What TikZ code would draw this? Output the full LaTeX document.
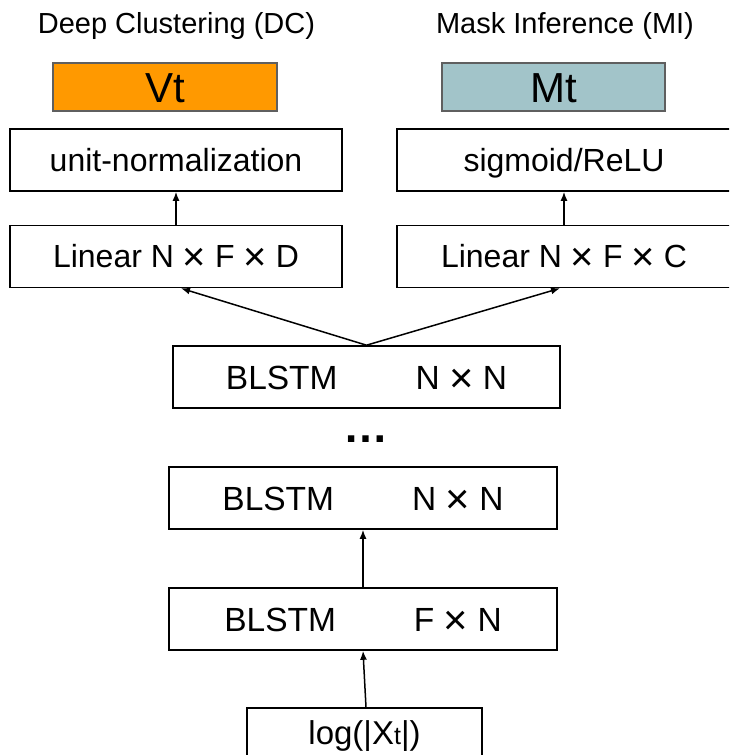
\documentclass[tikz,border=0pt]{standalone}
\usepackage{fontspec}
\setmainfont{Liberation Sans}
\usetikzlibrary{arrows.meta}
\definecolor{dcorange}{HTML}{FF9900}
\definecolor{miteal}{HTML}{A2C4C9}
\definecolor{outgray}{HTML}{5F5F5F}
% enlarged multiplication sign, centred on the capitals
\newcommand{\tms}{\raisebox{-0.09em}{\scalebox{1.25}{×}}}
\begin{document}
\begin{tikzpicture}[x=1pt,y=-1pt,
  title/.style={anchor=base,inner sep=0pt,font=\fontsize{29}{33}\selectfont},
  outbox/.style={draw=outgray,line width=1.5pt,minimum width=224pt,minimum height=48pt,
    inner sep=0pt,text height=30pt,text depth=0pt,font=\fontsize{42}{46}\selectfont},
  headbox/.style={draw=black,line width=1.6pt,minimum height=62pt,inner sep=0pt,
    text height=22.5pt,text depth=0pt,font=\fontsize{32}{36}\selectfont},
  lstmbox/.style={draw=black,line width=1.6pt,minimum width=388pt,minimum height=62pt,
    inner sep=0pt,text height=24pt,text depth=0pt,font=\fontsize{33.5}{38}\selectfont},
  arr/.style={line width=1.5pt,-{Latex[length=9pt,width=7pt]}}]
\useasboundingbox (0,0) rectangle (729,755);
\clip (0,0) rectangle (729,755);
\fill[white] (0,0) rectangle (729,755);

% output titles
\node[title] (tdc) at (176.5,33) {Deep Clustering (DC)};
\node[title] (tmi) at (565,33) {Mask Inference (MI)};

% network outputs
\node[outbox,fill=dcorange] (vt) at (165,87) {Vt};
\node[outbox,fill=miteal,minimum width=223pt] (mt) at (553.5,87) {Mt};

% output heads
\node[headbox,minimum width=332pt] (un) at (176,160) {unit-normalization};
\node[headbox,minimum width=334pt] (sg) at (564,160) {sigmoid/ReLU};
\node[headbox,minimum width=332pt] (la) at (176,256.5) {Linear N \tms{} F \tms{} D};
\node[headbox,minimum width=334pt] (lc) at (564,256.5) {Linear N \tms{} F \tms{} C};

% BLSTM stack
\node[lstmbox,minimum width=387pt] (b1) at (366.5,377) {BLSTM\hspace{78pt}N \tms{} N};
\node[anchor=base,inner sep=0pt,font=\bfseries\fontsize{45}{50}\selectfont] (dots) at (365.8,442) {…};
\node[lstmbox] (b2) at (363,498) {BLSTM\hspace{78pt}N \tms{} N};
\node[lstmbox] (b3) at (363,619) {BLSTM\hspace{78pt}F \tms{} N};

% input features
\node[draw=black,line width=1.6pt,minimum width=235pt,minimum height=49pt,inner sep=0pt,
  text height=23pt,text depth=0pt,font=\fontsize{33}{38}\selectfont] (lg) at (364.5,732.5)
  {log(|X{\fontsize{25}{29}\selectfont t}|)};

% connections
\draw[arr] (la) -- (un);
\draw[arr] (lc) -- (sg);
\draw[arr] (b1.north) -- ([xshift=5pt]la.south);
\draw[arr] (b1.north) -- ([xshift=-4pt]lc.south);
\draw[arr] (b3) -- (b2);
\draw[arr] ([xshift=1.5pt]lg.north) -- (b3.south);
\end{tikzpicture}
\end{document}
